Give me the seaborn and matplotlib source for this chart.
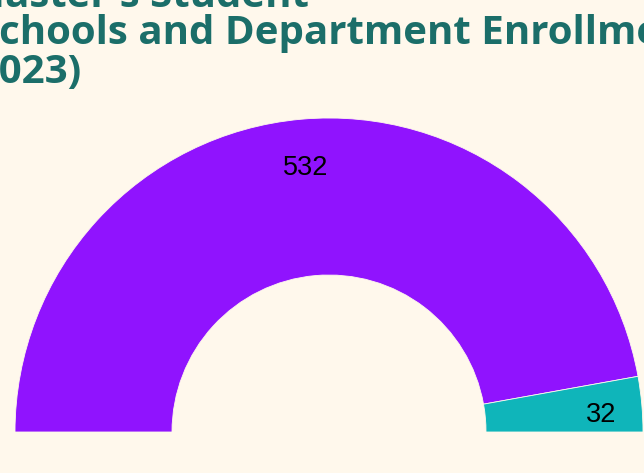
import matplotlib
matplotlib.use("Agg")
import matplotlib.pyplot as plt
import matplotlib.transforms as mtransforms
import seaborn as sns

# enrollment counts (2023)
categories = ["Schools", "Department"]
enrollment = [532, 32]
colors = ["#9013fe", "#0fb5ba"]

title_lines = ["Master's Student", "Schools and Department Enrollment", "(2023)"]
bg = "#fff8ec"

sns.set_theme(style="white")
plt.rcParams["font.family"] = ["Liberation Sans", "DejaVu Sans"]

fig = plt.figure(figsize=(6.44, 4.73), dpi=100, facecolor=bg)

# square axes, centre of the half donut sits near the bottom of the figure
ax = fig.add_axes([15 / 644, -273 / 473, 628 / 644, 628 / 473])
ax.set_facecolor("none")

total = sum(enrollment)
values = enrollment + [total]  # hidden lower half


def fmt(pct):
    v = round(pct * sum(values) / 100)
    return "" if v == total else f"{v}"


wedges, texts, autotexts = ax.pie(
    values,
    colors=colors + ["none"],
    startangle=180,
    counterclock=False,
    radius=1,
    autopct=fmt,
    pctdistance=0.845,
    wedgeprops=dict(width=0.5, edgecolor=bg, linewidth=0.6),
    textprops=dict(fontsize=19.5, color="black"),
)
wedges[-1].set_edgecolor("none")
# small slice label sits a bit lower/right in the original
autotexts[1].set_transform(mtransforms.offset_copy(ax.transData, fig=fig, x=8, y=-7, units="dots"))
ax.set_xlim(-1, 1)
ax.set_ylim(-1, 1)
ax.axis("off")

# title runs off the left/top edge like the original
x_px = [-33, -23, -38]
base_px = [7, 44, 83]
for line, xp, yp in zip(title_lines, x_px, base_px):
    fig.text(xp / 644, 1 - yp / 473, line, ha="left", va="baseline",
             fontsize=29, fontweight="bold", family="Open Sans",
             color="#1b6e69")

plt.savefig("out.png", dpi=100, facecolor=bg)
